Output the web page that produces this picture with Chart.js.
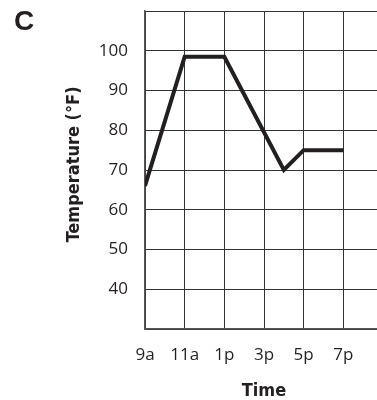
<!DOCTYPE html>
<html>
<head>
<meta charset="utf-8">
<script src="https://cdn.jsdelivr.net/npm/chart.js@4.4.0/dist/chart.umd.min.js"></script>
<style>
    html, body { margin: 0; padding: 0; background: #fff; overflow: hidden; }
    #wrap { position: relative; width: 377px; height: 400px; overflow: hidden; }
    #panel { position: absolute; left: 14px; top: 7px; font: bold 28px "Liberation Sans", Arial, sans-serif; color: #231f20; line-height: 1; }
    canvas { position: absolute; left: 0; top: 0; }
</style>
</head>
<body>
<div id="wrap">
    <canvas id="myChart" width="384" height="400"></canvas>
    <div id="panel">C</div>
</div>
<script>
// readings taken off the graph (hour of day, 24h clock)
var hours = [9, 11, 13, 16, 17, 19];
var temps = [66, 98.5, 98.5, 70, 75, 75];

var tickHours = [9, 11, 13, 15, 17, 19];
var tickLabels = ['9a', '11a', '1p', '3p', '5p', '7p'];
var tempTicks = [40, 50, 60, 70, 80, 90, 100];

var ink = '#231f20';

let points = [];
for (i = 0; i < hours.length; i++) {
    points.push({ x: hours[i], y: temps[i] });
}

const data = {
    datasets: [
        {
            label: 'Temperature',
            data: points,
            borderColor: ink,
            borderWidth: 4,
            borderJoinStyle: 'miter',
            borderCapStyle: 'butt',
            pointRadius: 0,
            tension: 0,
            fill: false
        }
    ]
};

// the empty end labels still ask for room, so drop the scale paddings
function noPadding(scale) {
    scale.paddingTop = 0;
    scale.paddingBottom = 0;
    scale.paddingLeft = 0;
    scale.paddingRight = 0;
}

const config = {
    type: 'line',
    data: data,
    options: {
        responsive: false,
        animation: false,
        layout: { padding: { top: 11, right: 1, left: 0, bottom: 0 } },
        plugins: {
            legend: { display: false },
            tooltip: { enabled: false }
        },
        scales: {
            x: {
                type: 'linear',
                min: 9,
                max: 21,
                ticks: {
                    stepSize: 2,
                    padding: 16,
                    color: ink,
                    font: { family: 'Open Sans', size: 17 },
                    maxRotation: 0,
                    autoSkip: false,
                    callback: function (value) {
                        var idx = tickHours.indexOf(value);
                        return idx >= 0 ? tickLabels[idx] : '';
                    }
                },
                grid: { color: '#333', lineWidth: 1, drawTicks: false },
                border: { color: '#555', width: 1.5 },
                title: {
                    display: true,
                    text: 'Time',
                    color: ink,
                    font: { family: 'DejaVu Sans Condensed', size: 18, weight: 'bold', lineHeight: 1 },
                    padding: { top: 0, bottom: 0 }
                },
                afterFit: function (scale) {
                    scale.height = 71;
                    noPadding(scale);
                }
            },
            y: {
                min: 30,
                max: 110,
                ticks: {
                    stepSize: 10,
                    padding: 17,
                    color: ink,
                    font: { family: 'Open Sans', size: 17 },
                    callback: function (value) {
                        return tempTicks.indexOf(value) >= 0 ? String(value) : '';
                    }
                },
                grid: { color: '#333', lineWidth: 1, drawTicks: false },
                border: { color: '#555', width: 1.5 },
                title: {
                    display: true,
                    // leading spaces nudge the title a bit above the middle, like the original
                    text: '  Temperature (°F)',
                    color: ink,
                    font: { family: 'DejaVu Sans Condensed', size: 18, weight: 'bold' },
                    padding: { top: 64, bottom: 0 }
                },
                afterFit: function (scale) {
                    scale.width = 145;
                    noPadding(scale);
                }
            }
        }
    }
};

const myChart = new Chart(document.getElementById('myChart'), config);
</script>
</body>
</html>
